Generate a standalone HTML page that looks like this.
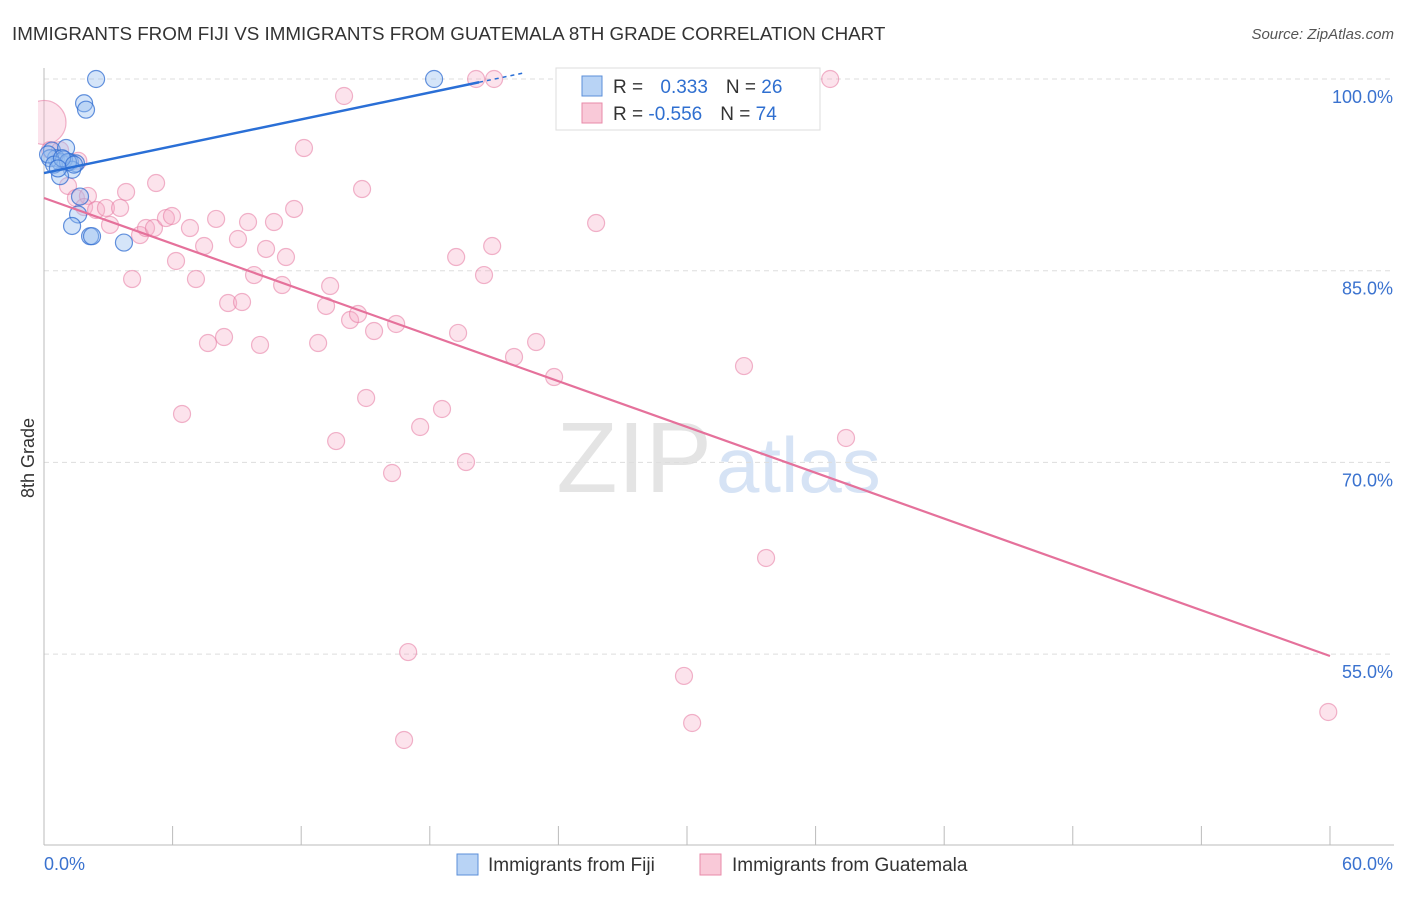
<!DOCTYPE html>
<html><head><meta charset="utf-8"><style>
body{margin:0;background:#fff;font-family:"Liberation Sans",sans-serif;}
svg text{font-family:"Liberation Sans",sans-serif;}
</style></head><body>
<svg id="chart" width="1406" height="892" xmlns="http://www.w3.org/2000/svg">
<defs><clipPath id="plotclip"><rect x="38" y="60" width="1370" height="790"/></clipPath></defs>
<text x="12" y="40" font-size="18.8" fill="#333">IMMIGRANTS FROM FIJI VS IMMIGRANTS FROM GUATEMALA 8TH GRADE CORRELATION CHART</text>
<text x="1394" y="39" font-size="15" fill="#555" font-style="italic" text-anchor="end">Source: ZipAtlas.com</text>
<text x="712" y="492" font-size="100" fill="#e4e4e4" font-family="Liberation Serif" text-anchor="end">ZIP</text>
<text x="716" y="492" font-size="78" fill="#d6e3f5">atlas</text>
<g id="grid"></g>
<g id="axes"></g>
<g id="pts" clip-path="url(#plotclip)"></g>
<g id="lines"></g>
<text x="34" y="458" font-size="18" fill="#333" transform="rotate(-90 34 458)" text-anchor="middle">8th Grade</text>
<g>
<rect x="556" y="68" width="264" height="62" fill="#fff" stroke="#ddd"/>
<rect x="582" y="76" width="20" height="20" fill="#b8d3f5" stroke="#5b8fd9"/>
<rect x="582" y="103" width="20" height="20" fill="#f9c9d8" stroke="#e88aa8"/>
<text x="613" y="93" font-size="19" fill="#333">R = <tspan fill="#2f6fd0" dx="12">0.333</tspan><tspan fill="#333" dx="18">N = </tspan><tspan fill="#2f6fd0">26</tspan></text>
<text x="613" y="120" font-size="19" fill="#333">R = <tspan fill="#2f6fd0">-0.556</tspan><tspan fill="#333" dx="18">N = </tspan><tspan fill="#2f6fd0">74</tspan></text>
</g>
<g>
<rect x="457" y="854" width="21" height="21" fill="#b8d3f5" stroke="#5b8fd9"/>
<text x="488" y="871" font-size="19" fill="#333">Immigrants from Fiji</text>
<rect x="700" y="854" width="21" height="21" fill="#f9c9d8" stroke="#e88aa8"/>
<text x="732" y="871" font-size="19" fill="#333">Immigrants from Guatemala</text>
</g>
</svg>
<script>
const yTicks=[100,85,70,55];
const yTickLabels=["100.0%","85.0%","70.0%","55.0%"];
const xTicks=[0,6,12,18,24,30,36,42,48,54,60];
const xEndLabels=["0.0%","60.0%"];
const fijiX=[2.43,1.87,1.96,0.37,1.03,0.56,0.75,1.21,1.49,0.93,1.31,0.75,0.28,1.68,1.59,1.31,2.15,2.24,3.73,18.2,0.19,0.47,1.12,0.84,0.65,1.4];
const fijiY=[100,98.1,97.6,94.4,94.6,93.8,93.5,93.5,93.4,93.7,92.9,92.4,93.8,90.8,89.4,88.5,87.7,87.7,87.2,100,94.1,93.3,93.5,93.8,93.0,93.3];
const guaX=[0,0.28,0.75,1.12,1.49,2.05,1.87,2.43,2.89,3.55,3.08,3.83,4.11,4.48,4.76,5.13,5.23,5.69,5.97,6.16,6.44,6.81,7.09,7.47,7.65,8.03,8.40,8.59,9.05,9.24,9.52,9.80,10.08,10.36,10.73,11.11,11.29,11.67,12.13,12.79,13.16,13.35,13.63,14.0,14.28,14.65,14.84,15.03,15.40,16.24,16.43,16.80,16.99,17.55,18.57,19.23,19.32,19.69,20.16,20.53,20.91,21.0,21.93,22.96,23.80,25.76,29.86,30.24,32.66,33.69,36.68,37.42,59.92,1.6];
const guaY=[96.6,94.44,94.44,91.63,90.69,90.85,89.98,89.75,89.91,89.91,88.58,91.16,84.35,87.79,88.34,88.34,91.86,89.12,89.28,85.76,73.79,88.34,84.35,86.93,79.34,89.05,79.81,82.47,87.48,82.55,88.81,84.66,79.19,86.70,88.81,83.88,86.07,89.83,94.60,79.34,82.24,83.80,71.67,98.67,81.14,81.61,91.39,75.04,80.28,69.17,80.83,48.28,55.16,72.77,74.18,86.07,80.13,70.03,100,84.66,86.93,100,78.25,79.42,76.68,88.73,53.29,49.61,77.54,62.52,100,71.91,50.47,93.6];
const fijiTrend=[92.64,0.35];
const guaTrend=[90.69,-0.5973];
const NS="http://www.w3.org/2000/svg";
const X=v=>44+v*21.433, Y=v=>79+(100-v)*12.78;
function mk(tag,attrs,parent){const e=document.createElementNS(NS,tag);for(const k in attrs)e.setAttribute(k,attrs[k]);document.getElementById(parent).appendChild(e);return e;}
yTicks.forEach((t,i)=>{
 const l=mk('line',{x1:44,x2:1394,y1:Y(t),y2:Y(t),stroke:'#ddd','stroke-dasharray':'5,4'},'grid');
 
 
 const tx=mk('text',{x:1393,y:Y(t)+24,'font-size':18,fill:'#3a72cf','text-anchor':'end'},'grid');tx.textContent=yTickLabels[i];
 
 
});
let a=mk('line',{x1:44,x2:44,y1:68,y2:845,stroke:'#bbb'},'axes');


a=mk('line',{x1:44,x2:1394,y1:845,y2:845,stroke:'#bbb'},'axes');


xTicks.forEach(t=>{const l=mk('line',{x1:X(t),x2:X(t),y1:826,y2:845,stroke:'#bbb'},'axes');
 
 });
let t0=mk('text',{x:44,y:870,'font-size':18,fill:'#3a72cf'},'axes');t0.textContent=xEndLabels[0];


t0=mk('text',{x:1393,y:870,'font-size':18,fill:'#3a72cf','text-anchor':'end'},'axes');t0.textContent=xEndLabels[1];


guaX.forEach((x,i)=>{const c=mk('circle',{cx:X(x),cy:Y(guaY[i]),r:i==0?22:8.5,fill:'rgba(246,170,196,0.33)',stroke:'rgba(230,120,160,0.55)','stroke-width':1.2},'pts');
 
 });
fijiX.forEach((x,i)=>{const c=mk('circle',{cx:X(x),cy:Y(fijiY[i]),r:8.5,fill:'rgba(150,190,240,0.4)',stroke:'rgba(50,110,210,0.75)','stroke-width':1.2},'pts');
 
 });
let ln=mk('line',{x1:X(0),y1:Y(fijiTrend[0]),x2:X(20.3),y2:Y(fijiTrend[0]+fijiTrend[1]*20.3),stroke:'#2a6fd6','stroke-width':2.5},'lines');


ln=mk('line',{x1:X(20.3),y1:Y(fijiTrend[0]+fijiTrend[1]*20.3),x2:X(22.4),y2:Y(fijiTrend[0]+fijiTrend[1]*22.4),stroke:'#2a6fd6','stroke-width':1.5,'stroke-dasharray':'4,4'},'lines');


ln=mk('line',{x1:X(0),y1:Y(guaTrend[0]),x2:X(60),y2:Y(guaTrend[0]+guaTrend[1]*60),stroke:'#e5719b','stroke-width':2.2},'lines');


</script>
</body></html>
